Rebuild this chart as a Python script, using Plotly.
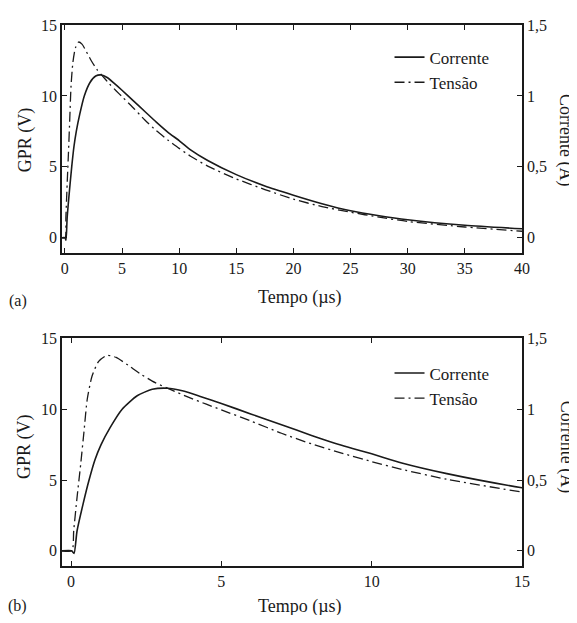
import plotly.graph_objects as go
from plotly.subplots import make_subplots

# Corrente (A) - solid line, right axis
t_corr = [-0.3, 0.02, 0.1, 0.2, 0.4, 0.6, 0.8, 1.0, 1.3, 1.7, 2.2, 2.7, 3.2, 3.7, 4.3,
          5.0, 6.0, 7.0, 8.0, 9.0, 10.0, 11.0, 12.5, 15.0, 17.5, 20.0, 22.5, 25.0, 27.5,
          30.0, 35.0, 40.0]
corrente = [0.0, 0.0, -0.018, 0.14, 0.33, 0.50, 0.645, 0.75, 0.87, 1.0, 1.095, 1.14, 1.148,
            1.13, 1.09, 1.04, 0.965, 0.89, 0.815, 0.745, 0.685, 0.62, 0.545, 0.445, 0.365,
            0.30, 0.24, 0.19, 0.155, 0.127, 0.088, 0.063]

# Tensão / GPR (V) - dash-dot line, left axis
t_tens = [-0.3, 0.03, 0.09, 0.2, 0.32, 0.43, 0.54, 0.7, 0.92, 1.2, 1.5, 1.9, 2.3, 2.8,
          3.3, 3.9, 4.5, 5.0, 6.0, 7.0, 8.0, 9.0, 10.0, 11.0, 12.5, 15.0, 17.5, 20.0,
          22.5, 25.0, 27.5, 30.0, 35.0, 40.0]
tensao = [0.0, 0.0, 1.44, 3.76, 6.08, 8.39, 10.7, 12.34, 13.38, 13.8, 13.65, 13.1, 12.5,
          11.87, 11.4, 10.85, 10.35, 9.95, 9.15, 8.3, 7.55, 6.9, 6.3, 5.75, 5.05, 4.15,
          3.4, 2.72, 2.2, 1.8, 1.45, 1.15, 0.76, 0.46]

x_ticks_a = [0, 5, 10, 15, 20, 25, 30, 35, 40]
x_ticks_b = [0, 5, 10, 15]
yl_ticks = [0, 5, 10, 15]
yr_ticks = [0, 0.5, 1, 1.5]
yr_text = ["0", "0,5", "1", "1,5"]

FONT = "Liberation Serif"
INK = "#1a1a1a"
fig = make_subplots(rows=2, cols=1, specs=[[{"secondary_y": True}], [{"secondary_y": True}]])

dash = "10px,4px,2px,4px"
for row, leg in [(1, "legend"), (2, "legend2")]:
    fig.add_trace(go.Scatter(x=t_corr, y=corrente, mode="lines", name="Corrente",
                             line=dict(color=INK, width=1.6, shape="spline", smoothing=0.6),
                             legend=leg), row=row, col=1, secondary_y=True)
    fig.add_trace(go.Scatter(x=t_tens, y=tensao, mode="lines", name="Tensão",
                             line=dict(color=INK, width=1.3, dash=dash, shape="spline", smoothing=0.6),
                             legend=leg), row=row, col=1, secondary_y=False)

ax_common = dict(showgrid=False, zeroline=False, showline=True, linecolor=INK, linewidth=1.5,
                 ticks="inside", ticklen=5, tickcolor=INK, tickwidth=1.2,
                 tickfont=dict(family=FONT, size=16, color=INK))

top_dom = [0.5792, 1.0]
bot_dom = [0.0, 0.4208]
# page body has an 8px default margin, so the figure is sized to fit inside it
fig.update_layout(
    width=569, height=607, plot_bgcolor="white", paper_bgcolor="white",
    margin=dict(l=54, r=55, t=9, b=49),
    font=dict(family=FONT, color=INK),
    xaxis=dict(domain=[0, 1], range=[-0.25, 40], tickvals=x_ticks_a, mirror="ticks", **ax_common),
    xaxis2=dict(domain=[0, 1], range=[-0.3, 15], tickvals=x_ticks_b, mirror="ticks", **ax_common),
    yaxis=dict(domain=top_dom, range=[-1.05, 15], tickvals=yl_ticks, mirror=True, **ax_common),
    yaxis2=dict(domain=top_dom, range=[-0.105, 1.5], tickvals=yr_ticks, ticktext=yr_text, **ax_common),
    yaxis3=dict(domain=bot_dom, range=[-1.07, 15], tickvals=yl_ticks, mirror=True, **ax_common),
    yaxis4=dict(domain=bot_dom, range=[-0.107, 1.5], tickvals=yr_ticks, ticktext=yr_text, **ax_common),
    legend=dict(x=0.712, y=0.973, xanchor="left", yanchor="top", bgcolor="rgba(0,0,0,0)",
                font=dict(family=FONT, size=17, color=INK), tracegroupgap=0,
                traceorder="normal"),
    legend2=dict(x=0.712, y=0.3893, xanchor="left", yanchor="top", bgcolor="rgba(0,0,0,0)",
                 font=dict(family=FONT, size=17, color=INK), tracegroupgap=0,
                 traceorder="normal"),
)

ann_font = dict(family=FONT, size=18, color=INK)
anns = [
    dict(text="GPR (V)", x=-0.0804, y=0.787, textangle=-90),
    dict(text="GPR (V)", x=-0.0804, y=0.220, textangle=-90),
    dict(text="Corrente (A)", x=1.096, y=0.787, textangle=90),
    dict(text="Corrente (A)", x=1.096, y=0.220, textangle=90),
    dict(text="Tempo (µs)", x=0.517, y=0.497),
    dict(text="Tempo (µs)", x=0.517, y=-0.0747),
    dict(text="(a)", x=-0.0957, y=0.49, size=16),
    dict(text="(b)", x=-0.0957, y=-0.0747, size=16),
]
for a in anns:
    f = dict(ann_font)
    if "size" in a:
        f["size"] = a.pop("size")
    fig.add_annotation(xref="paper", yref="paper", xanchor="center", yanchor="middle",
                       showarrow=False, font=f, **a)

fig.write_html("out.html")
